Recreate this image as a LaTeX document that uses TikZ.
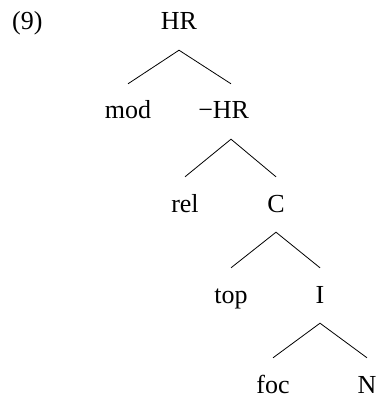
\documentclass[tikz,border=0pt]{standalone}
\usepackage{fontspec}
\setmainfont{Liberation Serif}
\begin{document}
\begin{tikzpicture}[x=1pt,y=-1pt,
  lbl/.style={anchor=base,inner sep=0pt,
              text height=17pt,text depth=0pt,
              font=\fontsize{26}{30}\selectfont},
  branch/.style={line width=0.8pt}]
  \useasboundingbox (0,0) rectangle (379,398);
  % example number
  \node[lbl,anchor=base west] (num) at (12,30) {(9)};
  % tree nodes
  \node[lbl] (hr)  at (179,30)  {HR};
  \node[lbl] (mod) at (128,119) {mod};
  \node[lbl] (mhr) at (231,119) {\llap{−}HR};
  \node[lbl] (rel) at (185,212) {rel};
  \node[lbl] (c)   at (276,212) {C};
  \node[lbl] (top) at (231,303) {top};
  \node[lbl] (i)   at (320,303) {I};
  \node[lbl] (foc) at (273,393) {foc};
  \node[lbl] (n)   at (367,393) {N};
  % branches: from just below a mother to just above her daughters
  \tikzset{
    up/.style={yshift=18pt},
    down/.style={yshift=-20pt}}
  \draw[branch] ([up]mod.north) -- ([down]hr.south)  -- ([up]mhr.north);
  \draw[branch] ([up]rel.north) -- ([down]mhr.south) -- ([up]c.north);
  \draw[branch] ([up]top.north) -- ([down]c.south)   -- ([up]i.north);
  \draw[branch] ([up]foc.north) -- ([down]i.south)   -- ([up]n.north);
\end{tikzpicture}
\end{document}
